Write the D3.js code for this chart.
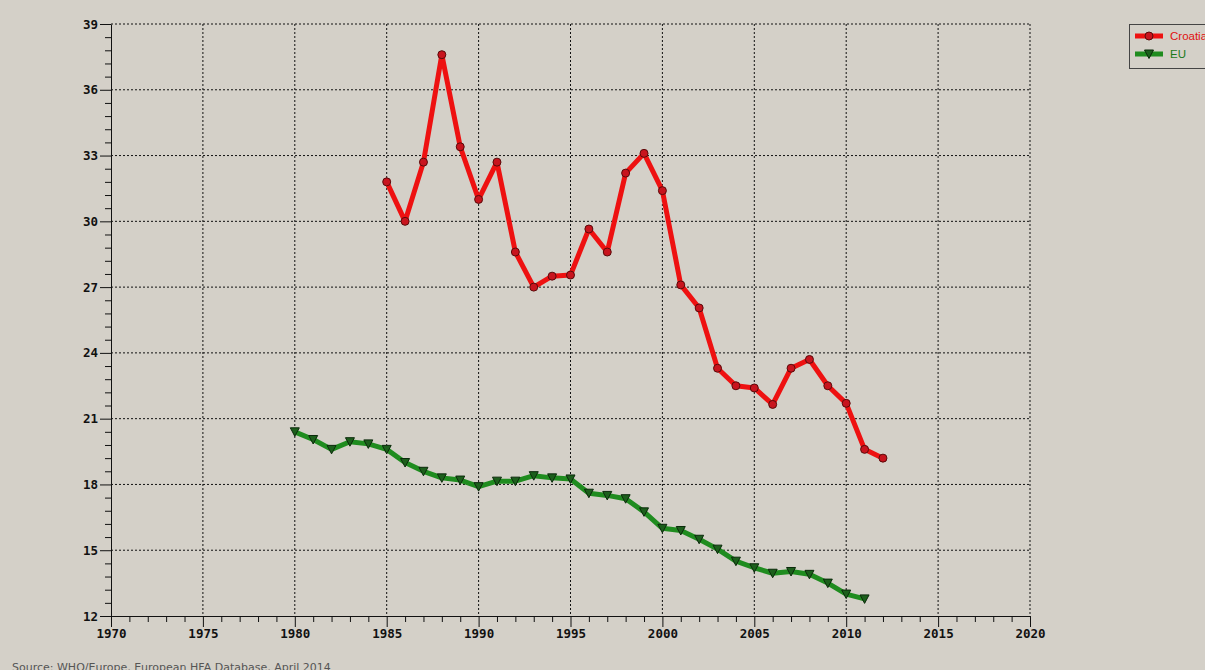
<!DOCTYPE html>
<html>
<head>
<meta charset="utf-8">
<script src="https://cdn.jsdelivr.net/npm/d3@7"></script>
<style>
  html, body { margin: 0; padding: 0; background: #d4d0c8; overflow: hidden; }
  svg { display: block; }
  .axis text { font-family: "DejaVu Sans Mono", monospace; font-weight: bold; font-size: 12.5px; fill: #111; }
  .axis path, .axis line { stroke: #111; }
</style>
</head>
<body>
<div id="chart-area"></div>
<script>
// data
var croatiaYears = [1985,1986,1987,1988,1989,1990,1991,1992,1993,1994,1995,1996,1997,1998,
  1999,2000,2001,2002,2003,2004,2005,2006,2007,2008,2009,2010,2011,2012];
var croatiaValues = [31.8,30.0,32.7,37.6,33.4,31.0,32.7,28.6,27.0,27.5,27.55,29.65,28.6,32.2,
  33.1,31.4,27.1,26.05,23.3,22.5,22.4,21.65,23.3,23.7,22.5,21.7,19.6,19.2];

var euYears = [1980,1981,1982,1983,1984,1985,1986,1987,1988,1989,1990,1991,1992,1993,1994,1995,
  1996,1997,1998,1999,2000,2001,2002,2003,2004,2005,2006,2007,2008,2009,2010,2011];
var euValues = [20.4,20.05,19.6,19.95,19.85,19.6,19.0,18.6,18.3,18.2,17.9,18.15,18.15,18.4,18.3,18.25,
  17.6,17.5,17.35,16.75,16.0,15.9,15.5,15.05,14.5,14.2,13.95,14.03,13.9,13.5,13.0,12.78];

var xTicks = [1970,1975,1980,1985,1990,1995,2000,2005,2010,2015,2020];
var yTicks = [12,15,18,21,24,27,30,33,36,39];
var seriesNames = ["Croatia","EU"];

// SVG Size
var W = 1205, H = 670;
var margin = {top: 24, right: 175, bottom: 54, left: 111};
var w = W - margin.left - margin.right;
var h = H - margin.top - margin.bottom;

var svg = d3.select("#chart-area").append("svg")
  .attr("width", W)
  .attr("height", H);

var g = svg.append("g")
  .attr("transform", "translate(" + margin.left + "," + margin.top + ")");

var x = d3.scaleLinear().domain([1970, 2020]).range([0, w]);
var y = d3.scaleLinear().domain([12, 39]).range([h, 0]);

// grid
g.append("g").selectAll("line.vg")
  .data(xTicks.slice(1))
  .enter().append("line")
  .attr("x1", function(d){ return x(d); })
  .attr("x2", function(d){ return x(d); })
  .attr("y1", 0).attr("y2", h)
  .attr("stroke", "#111").attr("stroke-width", 1)
  .attr("stroke-dasharray", "2,2");

g.append("g").selectAll("line.hg")
  .data(yTicks.slice(1))
  .enter().append("line")
  .attr("x1", 0).attr("x2", w)
  .attr("y1", function(d){ return y(d); })
  .attr("y2", function(d){ return y(d); })
  .attr("stroke", "#111").attr("stroke-width", 1)
  .attr("stroke-dasharray", "2,2");

// minor ticks
var xMinor = d3.range(1970, 2021, 1).filter(function(d){ return d % 5 != 0; });
var yMinor = d3.range(12, 39, 0.6).filter(function(d){ return Math.abs((d - 12) / 3 - Math.round((d - 12) / 3)) > 0.01; });

g.append("g")
  .attr("class", "axis")
  .attr("transform", "translate(0," + h + ")")
  .call(d3.axisBottom(x).tickValues(xMinor).tickSize(6).tickFormat(""))
  .select(".domain").remove();

g.append("g")
  .attr("class", "axis")
  .call(d3.axisLeft(y).tickValues(yMinor).tickSize(6).tickFormat(""))
  .select(".domain").remove();

// axes
g.append("g")
  .attr("class", "axis")
  .attr("transform", "translate(0," + h + ")")
  .call(d3.axisBottom(x).tickValues(xTicks).tickSize(11).tickSizeOuter(0).tickPadding(2).tickFormat(d3.format("d")));

g.append("g")
  .attr("class", "axis")
  .call(d3.axisLeft(y).tickValues(yTicks).tickSize(11).tickSizeOuter(0).tickPadding(2));

// series
var croatia = croatiaYears.map(function(d, i){ return {year: d, value: croatiaValues[i]}; });
var eu = euYears.map(function(d, i){ return {year: d, value: euValues[i]}; });

var line = d3.line()
  .x(function(d){ return x(d.year); })
  .y(function(d){ return y(d.value); });

g.append("path")
  .datum(eu)
  .attr("d", line)
  .attr("fill", "none")
  .attr("stroke", "#1f8c1f")
  .attr("stroke-width", 5)
  .attr("stroke-linejoin", "round");

var tri = "M-4.5,-4L4.5,-4L0,4.5Z";
g.selectAll("path.eu")
  .data(eu)
  .enter().append("path")
  .attr("class", "eu")
  .attr("d", tri)
  .attr("transform", function(d){ return "translate(" + x(d.year) + "," + y(d.value) + ")"; })
  .attr("fill", "#1c5f1c")
  .attr("stroke", "#0b2a0b")
  .attr("stroke-width", 1);

g.append("path")
  .datum(croatia)
  .attr("d", line)
  .attr("fill", "none")
  .attr("stroke", "#ee1111")
  .attr("stroke-width", 5)
  .attr("stroke-linejoin", "round");

g.selectAll("circle.hr")
  .data(croatia)
  .enter().append("circle")
  .attr("class", "hr")
  .attr("cx", function(d){ return x(d.year); })
  .attr("cy", function(d){ return y(d.value); })
  .attr("r", 4)
  .attr("fill", "#c8141e")
  .attr("stroke", "#5a0a0a")
  .attr("stroke-width", 1);

// legend
var legend = svg.append("g").attr("transform", "translate(1129,24)");
legend.append("rect")
  .attr("x", 0.5).attr("y", 0.5)
  .attr("width", 90).attr("height", 44)
  .attr("fill", "#d4d0c8")
  .attr("stroke", "#444");

var legColors = ["#ee1111", "#1f8c1f"];
var legText = ["#e01010", "#1a7a1a"];
seriesNames.forEach(function(name, i){
  var ly = 12 + i * 18;
  legend.append("line")
    .attr("x1", 6).attr("x2", 34)
    .attr("y1", ly).attr("y2", ly)
    .attr("stroke", legColors[i]).attr("stroke-width", 5);
  if (i == 0) {
    legend.append("circle").attr("cx", 20).attr("cy", ly).attr("r", 4)
      .attr("fill", "#c8141e").attr("stroke", "#5a0a0a");
  } else {
    legend.append("path").attr("d", tri)
      .attr("transform", "translate(20," + ly + ")")
      .attr("fill", "#1c5f1c").attr("stroke", "#0b2a0b");
  }
  legend.append("text")
    .attr("x", 41).attr("y", ly + 4)
    .attr("font-family", "Liberation Sans, Arial, sans-serif")
    .attr("font-size", 11.5)
    .attr("fill", legText[i])
    .text(name);
});

// source
svg.append("text")
  .attr("x", 12).attr("y", 671)
  .attr("font-family", "DejaVu Sans, sans-serif")
  .attr("font-size", 11)
  .attr("fill", "#555")
  .text("Source: WHO/Europe, European HFA Database, April 2014");
</script>
</body>
</html>
